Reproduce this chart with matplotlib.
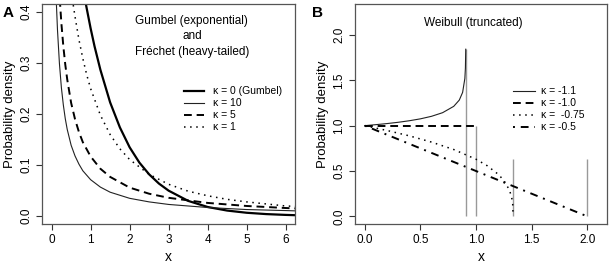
import matplotlib
matplotlib.use("Agg")
import matplotlib.pyplot as plt

plt.rcParams["font.family"] = ["Liberation Sans", "DejaVu Sans"]

# Panel A: Gumbel / Frechet densities
x_k0 = [0.8, 0.85, 0.9, 1.0, 1.1, 1.25, 1.5, 1.75, 2.0, 2.25, 2.5, 2.75, 3.0, 3.5, 4.0, 4.5, 5.0, 5.5, 6.0, 6.3]
y_k0 = [0.449, 0.427, 0.407, 0.368, 0.333, 0.287, 0.223, 0.174, 0.135, 0.105, 0.082, 0.064, 0.050, 0.030, 0.018, 0.011, 0.0067, 0.0041, 0.0025, 0.0018]

x_k10 = [0.05, 0.1, 0.12, 0.15, 0.2, 0.25, 0.3, 0.35, 0.4, 0.5, 0.6, 0.7, 0.8, 1.0, 1.25, 1.5, 2.0, 2.5, 3.0, 4.0, 5.0, 6.0, 6.3]
y_k10 = [0.640, 0.467, 0.420, 0.365, 0.299, 0.252, 0.218, 0.191, 0.170, 0.139, 0.118, 0.102, 0.089, 0.0715, 0.057, 0.047, 0.035, 0.028, 0.023, 0.017, 0.013, 0.011, 0.0103]

x_k5 = [0.1, 0.15, 0.2, 0.25, 0.3, 0.35, 0.4, 0.5, 0.6, 0.7, 0.8, 1.0, 1.25, 1.5, 2.0, 2.5, 3.0, 4.0, 5.0, 6.0, 6.3]
y_k5 = [0.615, 0.511, 0.435, 0.378, 0.333, 0.297, 0.268, 0.222, 0.190, 0.165, 0.145, 0.117, 0.093, 0.077, 0.056, 0.044, 0.036, 0.026, 0.020, 0.016, 0.015]

x_k1 = [0.5, 0.55, 0.6, 0.7, 0.8, 0.9, 1.0, 1.25, 1.5, 1.75, 2.0, 2.5, 3.0, 3.5, 4.0, 4.5, 5.0, 5.5, 6.0, 6.3]
y_k1 = [0.444, 0.416, 0.391, 0.346, 0.309, 0.277, 0.250, 0.198, 0.160, 0.132, 0.111, 0.082, 0.0625, 0.049, 0.040, 0.033, 0.028, 0.024, 0.020, 0.019]

# Panel B: Weibull (truncated) densities
x_m11 = [0.0, 0.1, 0.2, 0.3, 0.4, 0.5, 0.6, 0.7, 0.8, 0.85, 0.88, 0.9, 0.905, 0.908]
y_m11 = [1.0, 1.011, 1.023, 1.037, 1.054, 1.075, 1.103, 1.143, 1.213, 1.282, 1.367, 1.520, 1.634, 1.843]

x_m10 = [0.0, 1.0]
y_m10 = [1.0, 1.0]

x_m075 = [0.0, 0.2, 0.4, 0.6, 0.8, 1.0, 1.1, 1.2, 1.25, 1.3, 1.32, 1.33, 1.333]
y_m075 = [1.0, 0.947, 0.888, 0.819, 0.737, 0.630, 0.559, 0.464, 0.397, 0.292, 0.215, 0.136, 0.03]

x_m05 = [0.0, 2.0]
y_m05 = [1.0, 0.0]

# upper ends of the support (grey markers)
end_x = [0.909, 1.0, 1.333, 2.0]
end_top = [1.85, 1.0, 0.63, 0.63]

fig = plt.figure(figsize=(6.10, 2.63), dpi=100)
axA = fig.add_axes([0.0693, 0.147, 0.4143, 0.838])
axB = fig.add_axes([0.582, 0.147, 0.413, 0.838])

axA.plot(x_k0, y_k0, "-", c="k", lw=1.6, label="κ = 0 (Gumbel)")
axA.plot(x_k10, y_k10, "-", c="#222222", lw=0.8, label="κ = 10")
axA.plot(x_k5, y_k5, c="k", lw=1.4, dashes=(4, 2.5), label="κ = 5")
axA.plot(x_k1, y_k1, c="k", lw=1.1, dashes=(1, 3), label="κ = 1")
axA.set_xlim(-0.24, 6.24)
axA.set_ylim(-0.016, 0.416)
axA.set_xticks([0, 1, 2, 3, 4, 5, 6])
axA.set_yticks([0.0, 0.1, 0.2, 0.3, 0.4])
axA.text(0.592, 0.853, "Gumbel (exponential)\nand\nFréchet (heavy-tailed)",
         transform=axA.transAxes, ha="center", va="center", fontsize=8.5, linespacing=1.4)
axA.legend(loc="upper left", bbox_to_anchor=(0.561, 0.627), frameon=False, fontsize=7.5,
           handlelength=1.9, handletextpad=0.85, labelspacing=0.2, borderpad=0, borderaxespad=0)

axB.vlines(end_x, 0, end_top, colors="#999999", lw=1.0)
axB.plot(x_m11, y_m11, "-", c="#222222", lw=0.8, label="κ = -1.1")
axB.plot(x_m10, y_m10, c="k", lw=1.4, dashes=(4, 2.5), label="κ = -1.0")
axB.plot(x_m075, y_m075, c="k", lw=1.1, dashes=(1, 3), label="κ =  -0.75")
axB.plot(x_m05, y_m05, c="k", lw=1.4, dashes=(1, 3, 4, 3), label="κ = -0.5")
axB.set_xlim(-0.087, 2.177)
axB.set_ylim(-0.088, 2.342)
axB.set_xticks([0.0, 0.5, 1.0, 1.5, 2.0])
axB.set_yticks([0.0, 0.5, 1.0, 1.5, 2.0])
axB.text(0.468, 0.914, "Weibull (truncated)", transform=axB.transAxes,
         ha="center", va="center", fontsize=8.5)
axB.legend(loc="upper left", bbox_to_anchor=(0.627, 0.627), frameon=False, fontsize=7.5,
           handlelength=2.1, handletextpad=0.6, labelspacing=0.2, borderpad=0, borderaxespad=0)

for ax in (axA, axB):
    for s in ax.spines.values():
        s.set_color("#555555")
        s.set_linewidth(0.9)
    ax.tick_params(direction="out", length=4, width=0.8, color="#333333", labelsize=8.5, pad=3)
    plt.setp(ax.get_yticklabels(), rotation=90, va="center")
    ax.set_xlabel("x", fontsize=10, labelpad=3)
    ax.set_ylabel("Probability density", fontsize=9.5, labelpad=3)

fig.text(0.004, 0.952, "A", fontsize=11, fontweight="bold", va="center")
fig.text(0.512, 0.952, "B", fontsize=11, fontweight="bold", va="center")

fig.savefig("out.png", dpi=100)
